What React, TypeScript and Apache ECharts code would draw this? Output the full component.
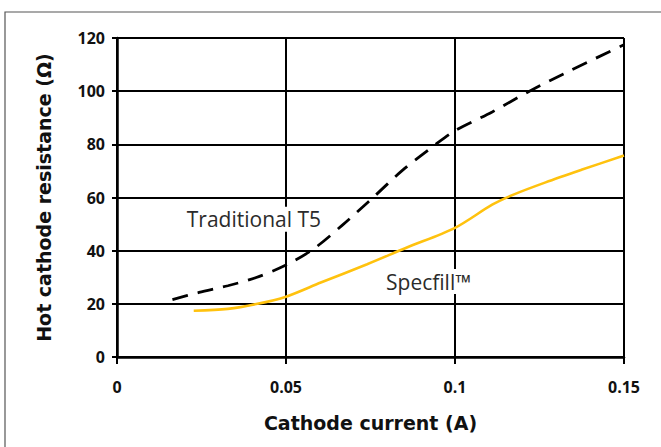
import React, { useEffect, useRef } from "react";
import * as echarts from "echarts";

const xTicks = [0, 0.05, 0.1, 0.15];
const yTicks = [0, 20, 40, 60, 80, 100, 120];

const traditionalT5: [number, number][] = [
  [0.0164, 21.6], [0.0243, 24.3], [0.0328, 26.8], [0.0412, 29.9], [0.05, 34.6],
  [0.058, 40.5], [0.0666, 49.5], [0.0756, 59.8], [0.0846, 70.4], [0.0941, 79.8],
  [0.1, 85.1], [0.111, 92.2], [0.1216, 99.7], [0.1321, 106.5], [0.15, 117.5],
];

const specfill: [number, number][] = [
  [0.0227, 17.4], [0.0328, 18.1], [0.0412, 19.9], [0.05, 22.7], [0.0603, 28.0],
  [0.074, 34.9], [0.0856, 41.1], [0.1, 48.6], [0.111, 57.3], [0.1173, 61.1],
  [0.1268, 65.7], [0.1374, 70.4], [0.15, 75.8],
];

const labelT5 = { name: "Traditional T5", coord: [0.0405, 51.8] };
const labelSpec = { name: "Specfill™", coord: [0.0922, 28.4] };

const TICK_FONT = "'Open Sans', 'Noto Sans', sans-serif";
const NAME_FONT = "'DejaVu Sans', 'Open Sans', sans-serif";

function textMark(l: { name: string; coord: number[] }) {
  return {
    silent: true,
    symbol: "circle",
    symbolSize: 1,
    itemStyle: { color: "rgba(0,0,0,0)" },
    data: [
      {
        coord: l.coord,
        label: {
          show: true,
          formatter: l.name,
          position: "inside",
          color: "#2b2b2b",
          fontSize: 21,
          fontFamily: TICK_FONT,
          fontWeight: 400,
          backgroundColor: "#ffffff",
          padding: [2, 2],
        },
      },
    ],
  };
}

export default function App() {
  const ref = useRef<HTMLDivElement>(null);
  useEffect(() => {
    const chart = echarts.init(ref.current!, null, { renderer: "svg" });
    chart.setOption({
      animation: false,
      backgroundColor: "#ffffff",
      graphic: [
        {
          type: "rect",
          shape: { x: 5, y: 12, width: 700, height: 500 },
          style: { fill: "none", stroke: "#555", lineWidth: 1.2 },
          silent: true,
          z: -1,
        },
      ],
      grid: { left: 117, right: 37, top: 38, bottom: 90 },
      xAxis: {
        type: "value",
        min: 0,
        max: 0.15,
        interval: 0.05,
        name: "Cathode current (A)",
        nameLocation: "middle",
        nameGap: 56,
        nameTextStyle: { fontSize: 19, fontWeight: "bold", color: "#111", fontFamily: NAME_FONT },
        axisLine: { show: true, lineStyle: { color: "#000", width: 2.5 } },
        axisTick: { show: true, length: 7, lineStyle: { color: "#000", width: 2 } },
        splitLine: { show: true, lineStyle: { color: "#000", width: 2 } },
        axisLabel: {
          fontSize: 16,
          fontWeight: "bold",
          color: "#111",
          fontFamily: TICK_FONT,
          margin: 22,
          formatter: (v: number) => {
            const t = xTicks.find((x) => Math.abs(x - v) < 1e-9);
            return t === undefined ? "" : String(t);
          },
        },
      },
      yAxis: {
        type: "value",
        min: 0,
        max: 120,
        interval: 20,
        name: "Hot cathode resistance (Ω)",
        nameLocation: "middle",
        nameGap: 64,
        nameTextStyle: { fontSize: 19, fontWeight: "bold", color: "#111", fontFamily: NAME_FONT },
        axisLine: { show: true, lineStyle: { color: "#000", width: 2.5 } },
        axisTick: { show: true, length: 5, lineStyle: { color: "#000", width: 2 } },
        splitLine: { show: true, lineStyle: { color: "#000", width: 2 } },
        axisLabel: {
          fontSize: 16,
          fontWeight: "bold",
          color: "#111",
          fontFamily: TICK_FONT,
          margin: 12,
          formatter: (v: number) => (yTicks.includes(v) ? String(v) : ""),
        },
      },
      series: [
        {
          type: "line",
          name: "Traditional T5",
          data: traditionalT5,
          smooth: 0.3,
          showSymbol: false,
          lineStyle: { color: "#000", width: 2.8, type: [16, 10] },
          markPoint: textMark(labelT5),
          z: 3,
        },
        {
          type: "line",
          name: "Specfill™",
          data: specfill,
          smooth: 0.3,
          showSymbol: false,
          lineStyle: { color: "#FFC20E", width: 2.6 },
          markPoint: textMark(labelSpec),
          z: 3,
        },
      ],
    });
    return () => chart.dispose();
  }, []);
  return (
    <div
      ref={ref}
      style={{ position: "fixed", left: 0, top: 0, width: 661, height: 447 }}
    />
  );
}
